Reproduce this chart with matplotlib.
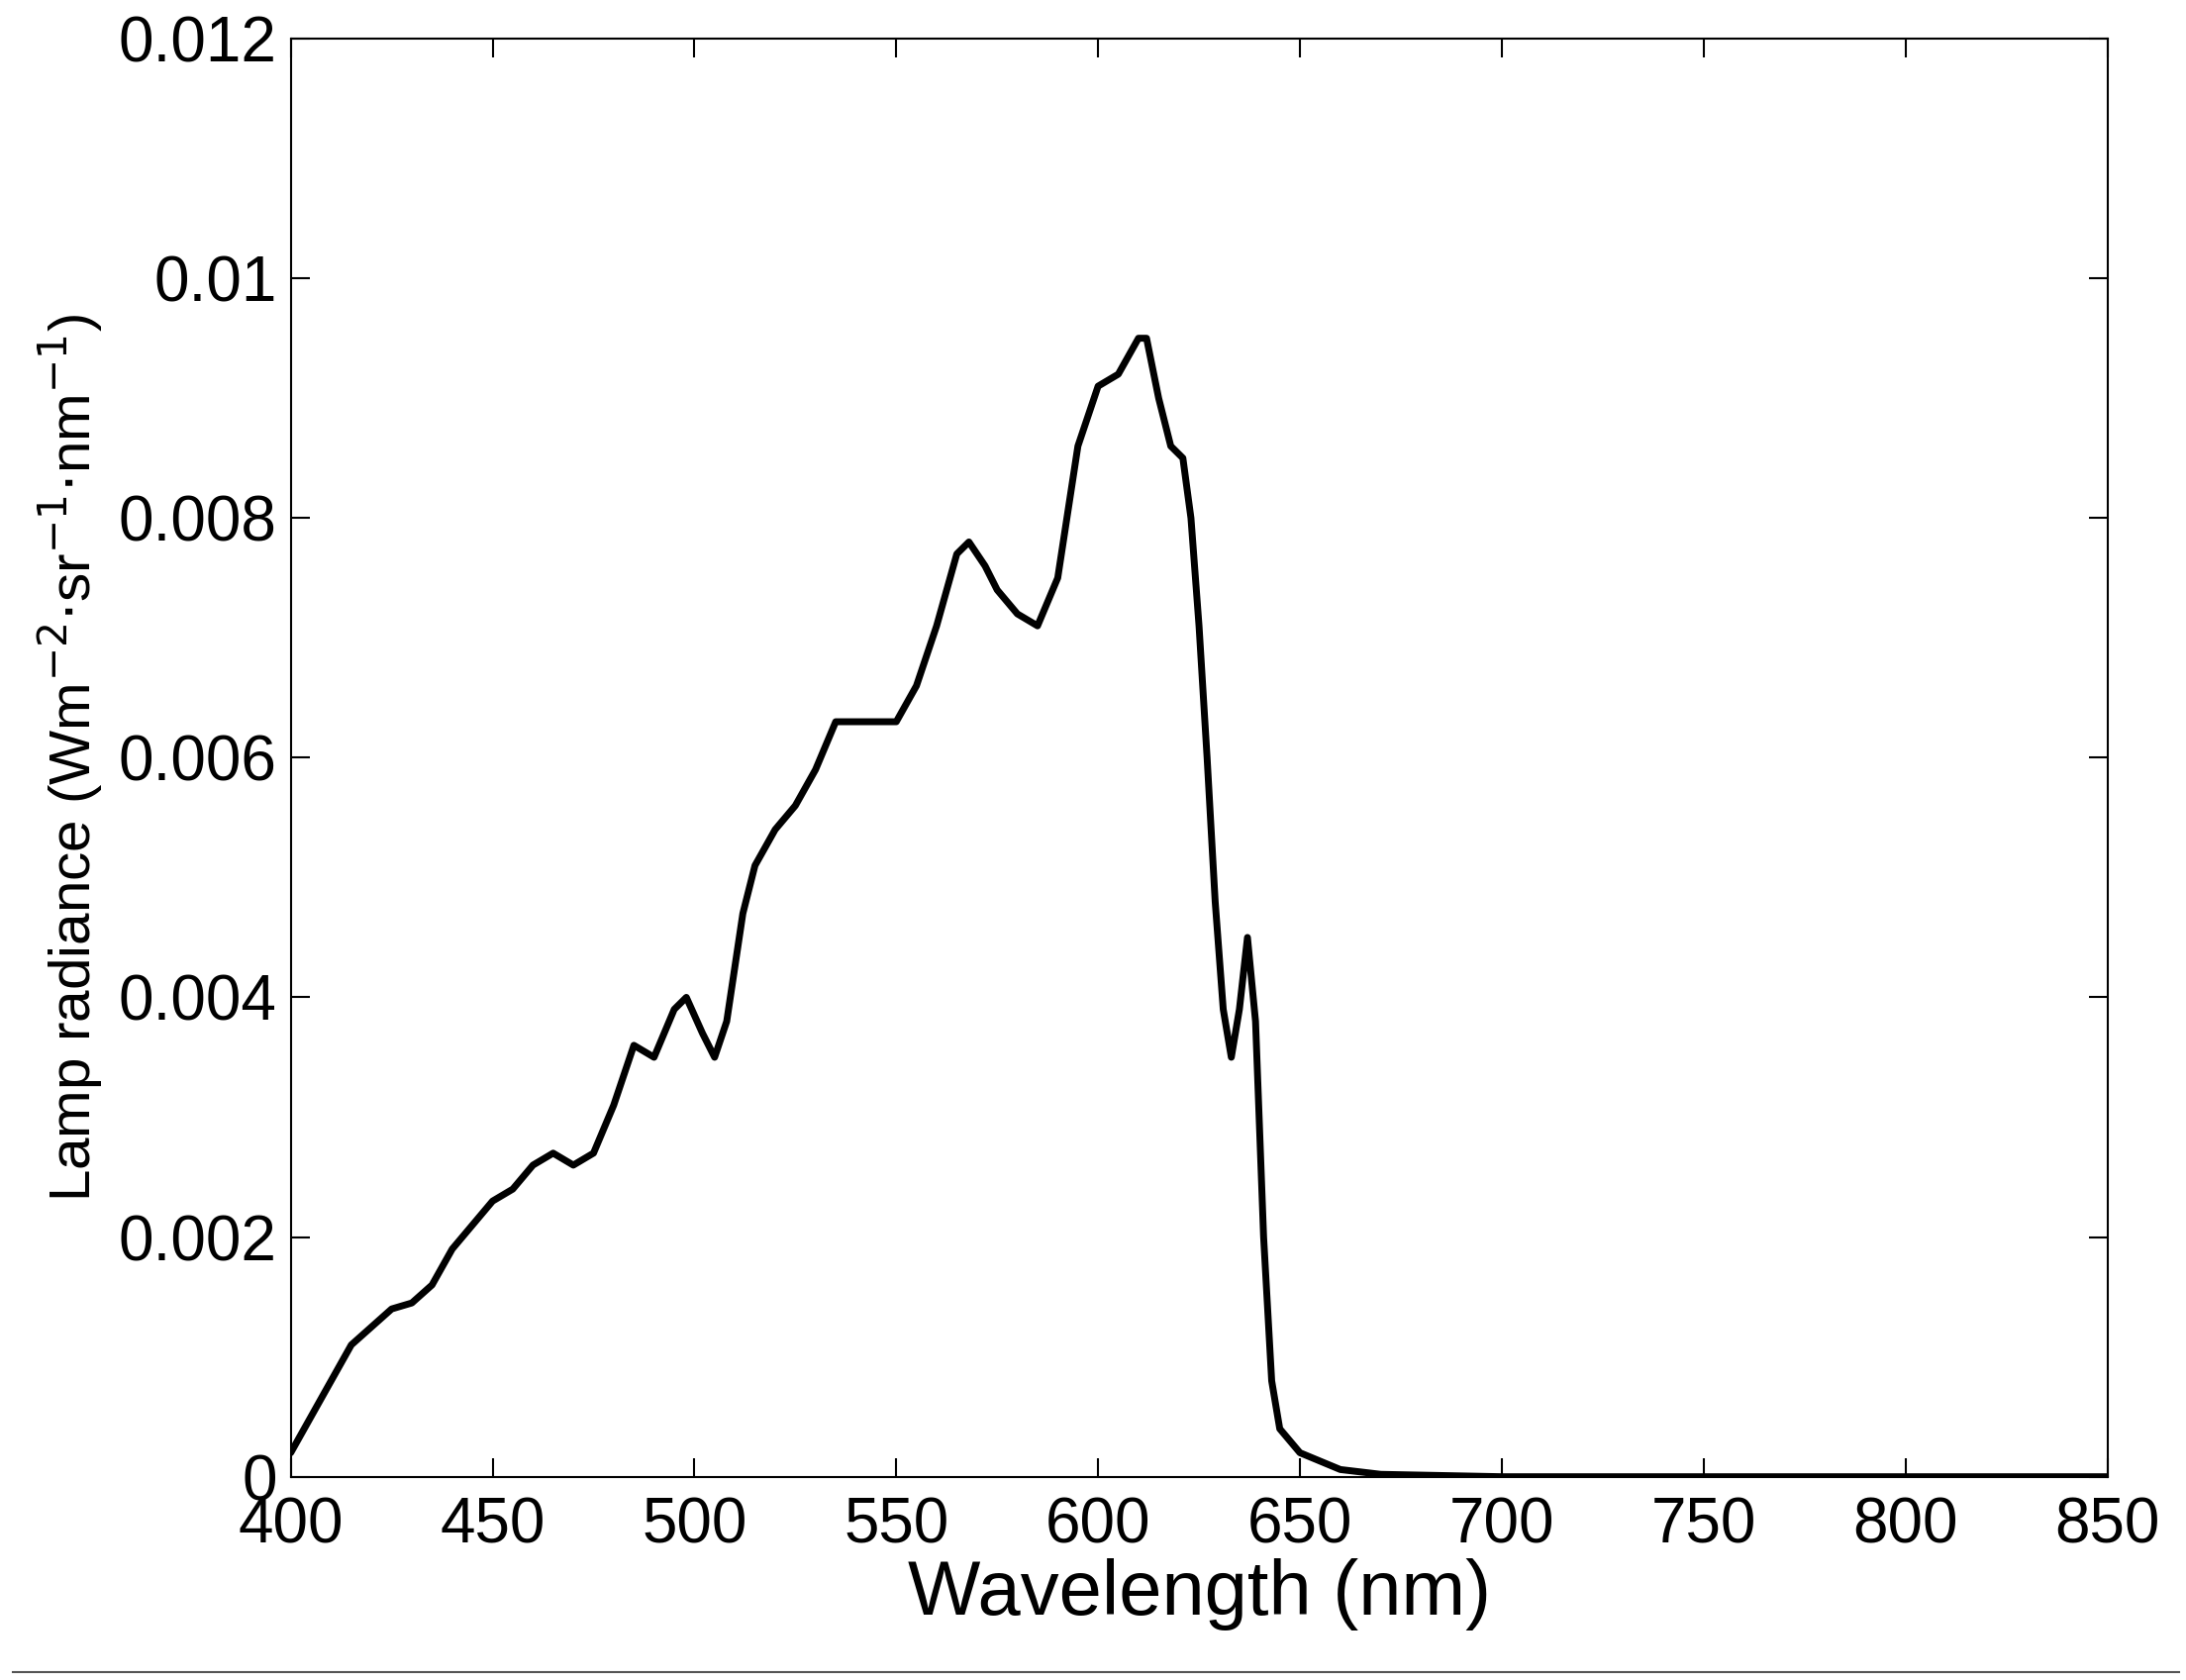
import matplotlib
matplotlib.use("Agg")
import matplotlib.pyplot as plt

wavelength = [400,405,410,415,420,425,430,435,440,445,450,455,460,465,470,475,480,485,490,495,498,502,505,508,512,515,520,525,530,535,540,545,550,555,560,565,568,572,575,580,585,590,595,600,605,610,612,615,618,621,623,625,627,629,631,633,635,637,639,641,643,645,650,660,670,700,750,800,850]
radiance = [0.0002,0.0005,0.0008,0.0011,0.00125,0.0014,0.00145,0.0016,0.0019,0.0021,0.0023,0.0024,0.0026,0.0027,0.0026,0.0027,0.0031,0.0036,0.0035,0.0039,0.0040,0.0037,0.0035,0.0038,0.0047,0.0051,0.0054,0.0056,0.0059,0.0063,0.0063,0.0063,0.0063,0.0066,0.0071,0.0077,0.0078,0.0076,0.0074,0.0072,0.0071,0.0075,0.0086,0.0091,0.0092,0.0095,0.0095,0.0090,0.0086,0.0085,0.0080,0.0071,0.0060,0.0048,0.0039,0.0035,0.0039,0.0045,0.0038,0.0020,0.0008,0.0004,0.0002,0.00006,0.00002,0.0,0.0,0.0,0.0]
xticks = [400,450,500,550,600,650,700,750,800,850]
yticks = [0,0.002,0.004,0.006,0.008,0.01,0.012]
yticklabels = ["0","0.002","0.004","0.006","0.008","0.01","0.012"]

plt.rcParams['font.family'] = ['Liberation Sans', 'DejaVu Sans']
fig = plt.figure(figsize=(22.08,16.97), dpi=100)
ax = fig.add_axes([0.133,0.121,0.831,0.856])
ax.plot(wavelength, radiance, color='black', lw=5, solid_joinstyle='round', solid_capstyle='round')
ax.set_xlim(400,850); ax.set_ylim(0,0.012)
ax.set_xticks(xticks); ax.set_xticklabels([str(x) for x in xticks])
ax.set_yticks(yticks); ax.set_yticklabels(yticklabels)
ax.tick_params(direction='in', length=14, width=1.5, top=True, right=True, labelsize=46)
ax.tick_params(axis='x', pad=14)
ax.tick_params(axis='y', pad=10)
for s in ax.spines.values(): s.set_linewidth(1.5)
ax.set_xlabel("Wavelength (nm)", fontsize=56, labelpad=2)
ax.set_ylabel(r"Lamp radiance (Wm$^{-2}$$\cdot$sr$^{-1}$$\cdot$nm$^{-1}$)", fontsize=42, labelpad=10)
fig.add_artist(plt.Line2D([0.006,0.997],[0.005,0.005], color='#555555', lw=1.5))
fig.savefig("out.png", dpi=100)
